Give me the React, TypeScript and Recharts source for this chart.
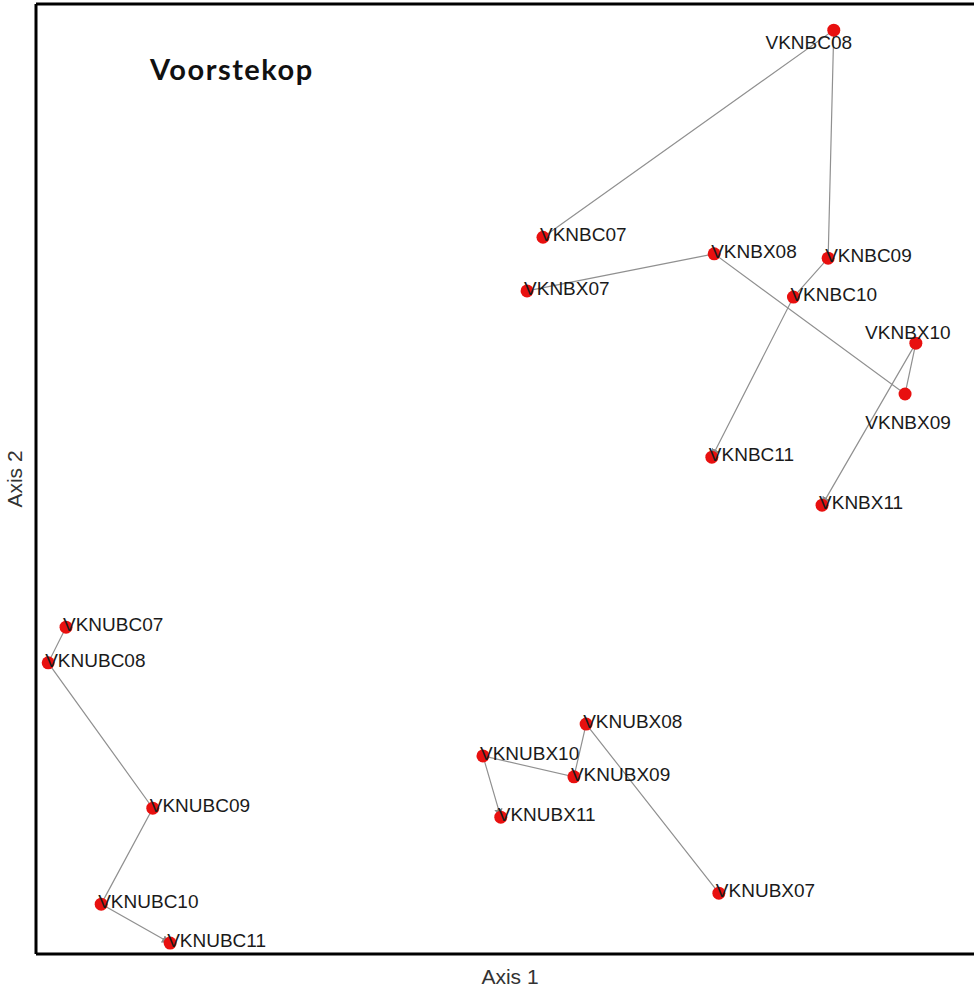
import React from 'react';
import { ScatterChart, Scatter, XAxis, YAxis, ReferenceLine } from 'recharts';

// NMDS-like ordination scores
const bcPoints = [
  { label: 'VKNBC07', x: 0.081, y: 0.509 },
  { label: 'VKNBC08', x: 0.701, y: 0.945 },
  { label: 'VKNBC09', x: 0.689, y: 0.465 },
  { label: 'VKNBC10', x: 0.615, y: 0.383 },
  { label: 'VKNBC11', x: 0.441, y: 0.046 },
];
const bxPoints = [
  { label: 'VKNBX07', x: 0.047, y: 0.396 },
  { label: 'VKNBX08', x: 0.446, y: 0.474 },
  { label: 'VKNBX09', x: 0.853, y: 0.179 },
  { label: 'VKNBX10', x: 0.876, y: 0.286 },
  { label: 'VKNBX11', x: 0.676, y: -0.055 },
];
const ubcPoints = [
  { label: 'VKNUBC07', x: -0.936, y: -0.312 },
  { label: 'VKNUBC08', x: -0.974, y: -0.387 },
  { label: 'VKNUBC09', x: -0.751, y: -0.693 },
  { label: 'VKNUBC10', x: -0.861, y: -0.895 },
  { label: 'VKNUBC11', x: -0.714, y: -0.977 },
];
const ubxPoints = [
  { label: 'VKNUBX07', x: 0.456, y: -0.872 },
  { label: 'VKNUBX08', x: 0.173, y: -0.516 },
  { label: 'VKNUBX09', x: 0.147, y: -0.627 },
  { label: 'VKNUBX10', x: -0.047, y: -0.583 },
  { label: 'VKNUBX11', x: -0.009, y: -0.712 },
];
const groups = [bcPoints, bxPoints, ubcPoints, ubxPoints];
const xDomain: [number, number] = [-1, 1];
const yDomain: [number, number] = [-1, 1];
const TITLE = 'Voorstekop';
const X_LABEL = 'Axis 1';
const Y_LABEL = 'Axis 2';

// label placement (layout only)
const LABEL_LAYOUT: Record<string, { dx: number; dy: number; anchor: 'start' | 'middle' }> = {
  VKNBC08: { dx: -25, dy: 19, anchor: 'middle' },
  VKNBX10: { dx: -8, dy: -4, anchor: 'middle' },
  VKNBX09: { dx: 3, dy: 35, anchor: 'middle' },
};
const DEFAULT_LAYOUT = { dx: -3, dy: 4, anchor: 'start' as const };

const FONT = '"Liberation Sans", Arial, sans-serif';

const PointShape = (props: any) => {
  const { cx, cy, payload } = props;
  if (cx == null || cy == null) return null;
  const l = LABEL_LAYOUT[payload.label] || DEFAULT_LAYOUT;
  return (
    <g>
      <circle cx={cx} cy={cy} r={6.5} fill="#e8100f" />
      <text
        x={cx + l.dx}
        y={cy + l.dy}
        textAnchor={l.anchor}
        fontSize={19}
        fontFamily={FONT}
        fill="#1a1a1a"
      >
        {payload.label}
      </text>
    </g>
  );
};

export default function App() {
  return (
    <div style={{ position: 'absolute', left: 0, top: 0, width: 974, height: 992, background: '#fff' }}>
      <svg width={0} height={0} style={{ position: 'absolute' }}>
        <defs>
          <marker id="arrowEnd" viewBox="0 0 10 10" refX={10} refY={5} markerWidth={7} markerHeight={7} orient="auto">
            <path d="M0,0 L10,5 L0,10 z" fill="#8a8a8a" />
          </marker>
        </defs>
      </svg>
      <ScatterChart width={974} height={992} margin={{ top: 4, right: 0, bottom: 0, left: 0 }}>
        <XAxis
          type="number"
          dataKey="x"
          domain={xDomain}
          tick={false}
          tickLine={false}
          axisLine={{ stroke: '#000', strokeWidth: 3 }}
          height={38}
          label={{ value: X_LABEL, position: 'center', dx: 5, dy: 4, fill: '#333', fontSize: 21, fontFamily: FONT }}
        />
        <YAxis
          type="number"
          dataKey="y"
          domain={yDomain}
          tick={false}
          tickLine={false}
          axisLine={{ stroke: '#000', strokeWidth: 3 }}
          width={36}
          label={{ value: Y_LABEL, position: 'center', angle: -90, dx: -3, fill: '#333', fontSize: 21, fontFamily: FONT }}
        />
        <ReferenceLine y={1} stroke="#000" strokeWidth={3} />
        {groups.map((g, i) => (
          <Scatter
            key={i}
            data={g}
            isAnimationActive={false}
            line={{ stroke: '#909090', strokeWidth: 1.2, markerEnd: 'url(#arrowEnd)' } as any}
            lineType="joint"
            shape={PointShape}
          />
        ))}
      </ScatterChart>
      <div
        style={{
          position: 'absolute',
          left: 150,
          top: 52,
          fontFamily: 'Lato, "Open Sans", sans-serif',
          fontWeight: 700,
          fontSize: 29,
          letterSpacing: 1.5,
          lineHeight: '34px',
          color: '#111',
        }}
      >
        {TITLE}
      </div>
    </div>
  );
}
